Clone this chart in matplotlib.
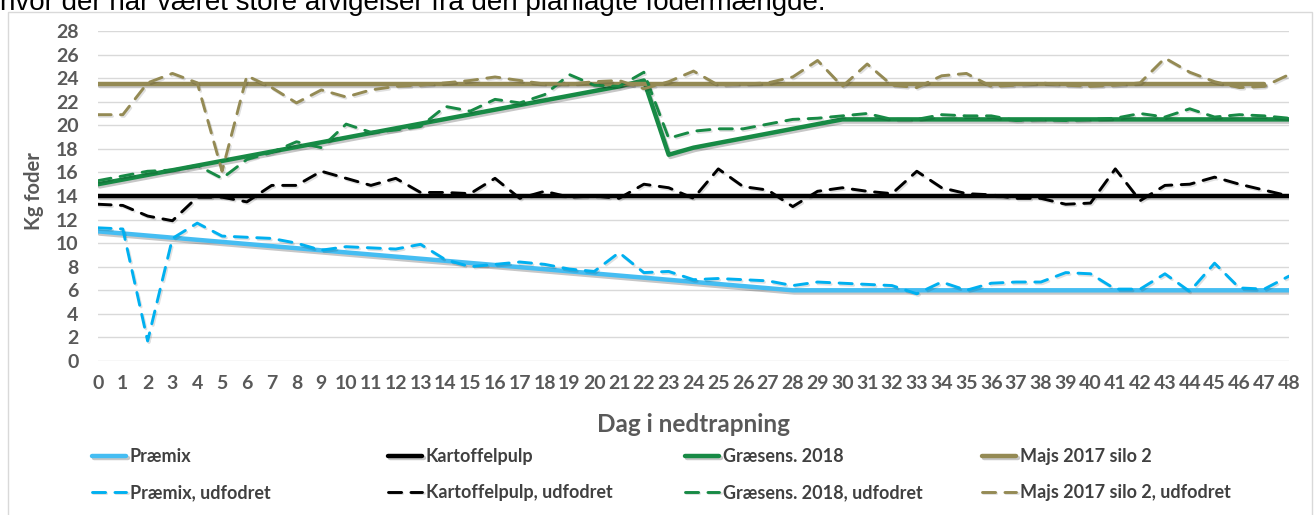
import matplotlib
matplotlib.use("Agg")
import matplotlib.pyplot as plt
from matplotlib import patheffects as pe
from matplotlib.patches import Rectangle

# ---------------- data ----------------
days = list(range(49))
day_labels = [str(d) for d in days]

# planned feed (break points of the planned lines)
praemix_plan_x = [0, 28, 48]
praemix_plan_y = [11.0, 6.0, 6.0]
kartoffel_plan_x = [0, 48]
kartoffel_plan_y = [14.0, 14.0]
graesens_plan_x = [0, 21, 22, 23, 24, 30, 48]
graesens_plan_y = [15.0, 23.3, 23.8, 17.5, 18.1, 20.5, 20.5]
majs_plan_x = [0, 47]
majs_plan_y = [23.5, 23.5]

# fed amounts (udfodret), one value per day
praemix_udf = [11.3, 11.2, 1.7, 10.4, 11.7, 10.6, 10.5, 10.4, 10.0, 9.4,
               9.7, 9.6, 9.5, 9.9, 8.6, 8.0, 8.2, 8.4, 8.2, 7.8,
               7.6, 9.2, 7.5, 7.6, 6.9, 7.0, 6.9, 6.8, 6.4, 6.7,
               6.6, 6.5, 6.4, 5.7, 6.7, 6.0, 6.6, 6.7, 6.7, 7.5,
               7.4, 6.1, 6.1, 7.4, 5.9, 8.3, 6.2, 6.1, 7.2]
kartoffel_udf = [13.3, 13.2, 12.3, 11.9, 13.9, 13.9, 13.5, 14.9, 14.9, 16.1,
                 15.5, 14.9, 15.5, 14.3, 14.3, 14.2, 15.5, 13.8, 14.4, 13.9,
                 14.0, 13.8, 15.0, 14.7, 13.8, 16.3, 14.8, 14.5, 13.1, 14.4,
                 14.7, 14.4, 14.2, 16.1, 14.7, 14.2, 14.1, 13.8, 13.8, 13.3,
                 13.4, 16.3, 13.6, 14.9, 15.0, 15.6, 15.0, 14.5, 14.0]
graesens_udf = [15.3, 15.7, 16.1, 16.2, 16.6, 15.5, 17.1, 17.7, 18.6, 18.1,
                20.1, 19.4, 19.6, 19.9, 21.6, 21.2, 22.2, 21.9, 22.6, 24.3,
                23.4, 23.3, 24.5, 18.9, 19.5, 19.7, 19.7, 20.1, 20.5, 20.6,
                20.8, 21.0, 20.5, 20.5, 20.9, 20.8, 20.8, 20.4, 20.5, 20.4,
                20.5, 20.6, 21.0, 20.7, 21.4, 20.7, 20.9, 20.8, 20.6]
majs_udf = [20.9, 20.9, 23.6, 24.4, 23.6, 16.1, 24.2, 23.2, 21.9, 23.0,
            22.4, 23.0, 23.3, 23.4, 23.6, 23.8, 24.1, 23.8, 23.5, 23.5,
            23.7, 23.8, 23.1, 23.7, 24.6, 23.4, 23.5, 23.6, 24.1, 25.5,
            23.3, 25.2, 23.4, 23.2, 24.2, 24.4, 23.3, 23.4, 23.6, 23.4,
            23.3, 23.4, 23.6, 25.7, 24.5, 23.7, 23.2, 23.3, 24.3]

names_plan = ["Præmix", "Kartoffelpulp", "Græsens. 2018", "Majs 2017 silo 2"]
names_udf = [n + ", udfodret" for n in names_plan]

y_ticks = list(range(0, 29, 2))

# ---------------- style ----------------
c_praemix = "#45BDF2"
c_praemix_d = "#00B0F0"
c_kart = "#000000"
c_graes = "#178A45"
c_majs = "#948A54"
tick_col = "#595959"
FONT = "Lato"

W, H = 1314, 515
fig = plt.figure(figsize=(W / 100, H / 100), dpi=100)
fig.patch.set_facecolor("white")

# chart frame
fig.patches.append(Rectangle((8 / W, -0.01), (1312 - 8) / W, 1.01 - 12 / H,
                             transform=fig.transFigure, fill=False,
                             edgecolor="#D9D9D9", lw=1.0))

fig.text(0.0, 1 - 10 / H, "hvor der har været store afvigelser fra den planlagte fodermængde.",
         fontsize=20, family="Liberation Sans", va="baseline", ha="left", color="black")

ax = fig.add_axes([98 / W, 1 - 361 / H, (1289 - 98) / W, (361 - 31) / H])
ax.set_facecolor("none")

shadow = [pe.SimpleLineShadow(offset=(1.2, -1.6), shadow_color="black", alpha=0.22), pe.Normal()]
shadow_d = [pe.SimpleLineShadow(offset=(1.0, -1.2), shadow_color="black", alpha=0.12), pe.Normal()]

lw_s = 3.2
lw_d = 2.1
dash = (4.5, 3.2)

h = {}
h["p"], = ax.plot(praemix_plan_x, praemix_plan_y, color=c_praemix, lw=lw_s,
                  solid_capstyle="round", solid_joinstyle="round", path_effects=shadow, zorder=3)
h["k"], = ax.plot(kartoffel_plan_x, kartoffel_plan_y, color=c_kart, lw=lw_s,
                  solid_capstyle="round", path_effects=shadow, zorder=3)
h["g"], = ax.plot(graesens_plan_x, graesens_plan_y, color=c_graes, lw=lw_s,
                  solid_capstyle="round", solid_joinstyle="round", path_effects=shadow, zorder=3)
h["m"], = ax.plot(majs_plan_x, majs_plan_y, color=c_majs, lw=lw_s,
                  solid_capstyle="round", path_effects=shadow, zorder=3)

h["pd"], = ax.plot(days, praemix_udf, color=c_praemix_d, lw=lw_d, dashes=dash,
                   dash_capstyle="round", path_effects=shadow_d, zorder=4)
h["kd"], = ax.plot(days, kartoffel_udf, color=c_kart, lw=lw_d, dashes=dash,
                   dash_capstyle="round", path_effects=shadow_d, zorder=4)
h["gd"], = ax.plot(days, graesens_udf, color=c_graes, lw=lw_d, dashes=dash,
                   dash_capstyle="round", path_effects=shadow_d, zorder=4)
h["md"], = ax.plot(days, majs_udf, color=c_majs, lw=lw_d, dashes=dash,
                   dash_capstyle="round", path_effects=shadow_d, zorder=4)

ax.set_xlim(0, 48)
ax.set_ylim(0, 28)
ax.set_yticks(y_ticks)
ax.set_yticklabels([str(v) for v in y_ticks])
ax.set_xticks(days)
ax.set_xticklabels(day_labels)
for s in ax.spines.values():
    s.set_visible(False)
ax.yaxis.grid(True, color="#D9D9D9", lw=1.0)
ax.set_axisbelow(True)
ax.tick_params(axis="both", length=0)
ax.tick_params(axis="y", pad=14)
ax.tick_params(axis="x", pad=10)
for lab in ax.get_xticklabels() + ax.get_yticklabels():
    lab.set_fontfamily(FONT)
    lab.set_fontweight("bold")
    lab.set_fontsize(14)
    lab.set_color(tick_col)

ax.set_ylabel("Kg foder", fontfamily=FONT, fontweight="bold", fontsize=14.5, color=tick_col)
ax.yaxis.set_label_coords((34 - 98) / (1289 - 98), (361 - 191) / (361 - 31))
ax.set_xlabel("Dag i nedtrapning", fontfamily=FONT, fontweight="bold", fontsize=17.5,
              color=tick_col)
ax.xaxis.set_label_coords(0.5, -(424 - 361) / (361 - 31))
ax.xaxis.label.set_va("center")
ax.yaxis.label.set_va("center")

# legend: four columns, each with the planned line above its fed line
col_x = [92, 388, 685, 982]
pairs = [("p", "pd"), ("k", "kd"), ("g", "gd"), ("m", "md")]
for i, (a, b) in enumerate(pairs):
    leg = fig.legend([h[a], h[b]], [names_plan[i], names_udf[i]],
                     loc="center left", bbox_to_anchor=(col_x[i] / W, 1 - 474.5 / H),
                     frameon=False, borderpad=0, borderaxespad=0,
                     handlelength=1.9, handletextpad=0.2, labelspacing=1.05,
                     prop={"family": FONT, "weight": "bold", "size": 13})
    for t in leg.get_texts():
        t.set_color("#404040")

fig.savefig("out.png", dpi=100, facecolor="white")
